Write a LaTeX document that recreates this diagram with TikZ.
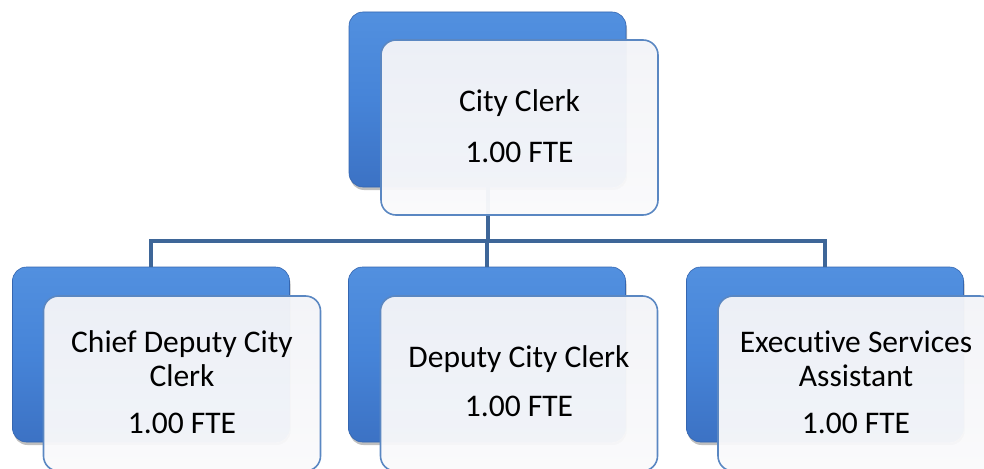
\documentclass[tikz,border=0pt]{standalone}
\usepackage{fontspec}
\setmainfont[Ligatures={NoCommon}]{Carlito}
\usetikzlibrary{shadows}
\definecolor{boxblue}{HTML}{4684D8}
\definecolor{boxbluetop}{HTML}{5290DF}
\definecolor{boxbluebot}{HTML}{3C72C4}
\definecolor{boxedge}{HTML}{3566B0}
\definecolor{frameblue}{HTML}{5A87C2}
\definecolor{linkblue}{HTML}{3E6698}
\definecolor{cardtop}{HTML}{F3F4F8}
\definecolor{cardbot}{HTML}{FAFAFB}
\tikzset{
  back/.style={rectangle, rounded corners=14pt, minimum width=277pt, minimum height=175pt,
    top color=boxbluetop, bottom color=boxbluebot, middle color=boxblue,
    draw=boxedge, line width=0.6pt,
    drop shadow={shadow xshift=1pt, shadow yshift=-3pt, opacity=0.25, fill=black}},
  card/.style={rectangle, rounded corners=15pt, minimum width=277pt, minimum height=175pt,
    top color=cardtop, bottom color=cardbot, fill opacity=0.96, draw=frameblue, line width=1.6pt},
  conn/.style={draw=linkblue, line width=4pt},
  txt/.style={anchor=base, inner sep=0pt, font=\fontsize{31.5}{34}\selectfont, text=black}
}
\begin{document}
\begin{tikzpicture}[x=1pt, y=-1pt]
\useasboundingbox (0,0) rectangle (984,468);
\clip (0,0) rectangle (984,468);

% back panels
\node[back] (b0) at (487.5,99.5) {};
\node[back] (b1) at (151,354.5) {};
\node[back] (b2) at (487,354.5) {};
\node[back] (b3) at (825,354.5) {};

% reporting lines
\coordinate (bus) at (487.5,241);
\draw[conn] (b0.south) -- (b0.south |- bus) -| (b1.north);
\draw[conn] (b0.south |- bus) -| (b2.north);
\draw[conn] (b0.south |- bus) -| (b3.north);

% front cards
\node[card] (f0) at (519.5,127.5) {};
\node[card] (f1) at (182,383.5) {};
\node[card] (f2) at (519,383.5) {};
\node[card] (f3) at (856.5,383.5) {};

% labels
\node[txt] (t0a) at (519.5,112) {City Clerk};
\node[txt] (t0b) at (519.5,162) {1.00 FTE};

\node[txt] (t1a) at (182,352) {Chief Deputy City};
\node[txt] (t1b) at (182,386) {Clerk};
\node[txt] (t1c) at (182,433) {1.00 FTE};

\node[txt] (t2a) at (519,367) {Deputy City Clerk};
\node[txt] (t2b) at (519,416) {1.00 FTE};

\node[txt] (t3a) at (856,352) {Executive Services};
\node[txt] (t3b) at (856,386) {Assistant};
\node[txt] (t3c) at (856,433) {1.00 FTE};
\end{tikzpicture}
\end{document}
